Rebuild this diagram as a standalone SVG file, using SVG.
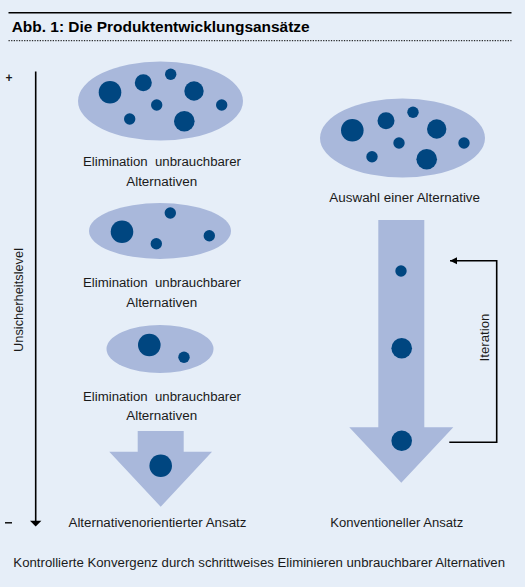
<svg xmlns="http://www.w3.org/2000/svg" width="525" height="587" viewBox="0 0 525 587">
<defs>
<style>
.t{font-family:"Liberation Sans",Arial,sans-serif;font-size:12px;fill:#1a1a1a;text-anchor:middle}
.e{fill:#a9b8db}
.d{fill:#004680}
.ln{stroke:#000;stroke-width:1.6;fill:none}
</style>
<marker id="ah" viewBox="0 0 10 10" refX="10" refY="5" markerWidth="7" markerHeight="10" markerUnits="userSpaceOnUse" orient="auto"><path d="M0,0L10,5L0,10z" fill="#000"/></marker>
</defs>
<rect width="525" height="587" fill="#e6eef8"/>
<g id="title">
<line x1="8.5" y1="12.7" x2="511.5" y2="12.7" stroke="#000" stroke-width="1.6"/>
<text x="11.7" y="32" style="font-family:'Liberation Sans',Arial,sans-serif;font-size:14px;font-weight:bold;fill:#000" textLength="298" lengthAdjust="spacingAndGlyphs">Abb. 1: Die Produktentwicklungsansätze</text>
<line x1="8.5" y1="40.7" x2="511.5" y2="40.7" stroke="#000" stroke-width="1" stroke-dasharray="1.3,1.3"/>
</g>
<g id="axis">
<line x1="35.7" y1="71.5" x2="35.7" y2="522" class="ln"/>
<path d="M30,520.7L41.4,520.7L35.7,526.5z" fill="#000"/>
<text x="9" y="81.5" class="t" style="font-weight:bold;font-size:12px">+</text>
<line x1="5" y1="522.8" x2="12" y2="522.8" stroke="#000" stroke-width="1.4"/>
<text class="t" transform="translate(23,300) rotate(-90)" textLength="104" lengthAdjust="spacingAndGlyphs">Unsicherheitslevel</text>
</g>
<g id="ellipse1">
<ellipse class="e" cx="160.5" cy="101" rx="82.5" ry="39.5"/>
<circle class="d" cx="110" cy="92.3" r="11.3"/>
<circle class="d" cx="143.3" cy="82.7" r="8.5"/>
<circle class="d" cx="170.7" cy="74.3" r="5.7"/>
<circle class="d" cx="194" cy="91" r="9.7"/>
<circle class="d" cx="156.7" cy="105" r="5.7"/>
<circle class="d" cx="221.7" cy="105" r="5.7"/>
<circle class="d" cx="129.7" cy="119" r="5.7"/>
<circle class="d" cx="184.3" cy="121.3" r="10.3"/>
<text class="t" x="162" y="166" textLength="158" lengthAdjust="spacingAndGlyphs" xml:space="preserve">Elimination  unbrauchbarer</text>
<text class="t" x="161.7" y="185.5" textLength="71" lengthAdjust="spacingAndGlyphs">Alternativen</text>
</g>
<g id="ellipse2">
<ellipse class="e" cx="160" cy="231" rx="71" ry="28"/>
<circle class="d" cx="122" cy="231.7" r="11.3"/>
<circle class="d" cx="170.3" cy="213" r="5.7"/>
<circle class="d" cx="156.3" cy="243.7" r="5.7"/>
<circle class="d" cx="209.3" cy="235.7" r="5.7"/>
<text class="t" x="162" y="287" textLength="158" lengthAdjust="spacingAndGlyphs" xml:space="preserve">Elimination  unbrauchbarer</text>
<text class="t" x="161.7" y="307" textLength="71" lengthAdjust="spacingAndGlyphs">Alternativen</text>
</g>
<g id="ellipse3">
<ellipse class="e" cx="160" cy="349" rx="53.5" ry="24"/>
<circle class="d" cx="149.3" cy="345" r="11.3"/>
<circle class="d" cx="184" cy="357.3" r="5.7"/>
<text class="t" x="162" y="400.5" textLength="158" lengthAdjust="spacingAndGlyphs" xml:space="preserve">Elimination  unbrauchbarer</text>
<text class="t" x="161.7" y="420" textLength="71" lengthAdjust="spacingAndGlyphs">Alternativen</text>
</g>
<g id="arrow-left">
<path class="e" d="M137.7,431L183.7,431L183.7,451.7L212,451.7L160.7,506.7L109.3,451.7L137.7,451.7z"/>
<circle class="d" cx="160.7" cy="465.7" r="11.3"/>
<text class="t" x="157.5" y="527" textLength="178" lengthAdjust="spacingAndGlyphs">Alternativenorientierter Ansatz</text>
</g>
<g id="ellipse-right">
<ellipse class="e" cx="402.5" cy="138" rx="82.5" ry="39.5"/>
<circle class="d" cx="352.3" cy="130.3" r="11.3"/>
<circle class="d" cx="386" cy="120.7" r="8.5"/>
<circle class="d" cx="413" cy="112.3" r="5.7"/>
<circle class="d" cx="436.7" cy="129" r="9.7"/>
<circle class="d" cx="399" cy="143" r="5.7"/>
<circle class="d" cx="464" cy="143" r="5.7"/>
<circle class="d" cx="372" cy="156.7" r="5.7"/>
<circle class="d" cx="426.7" cy="159.3" r="10.3"/>
<text class="t" x="404.7" y="201.7" textLength="150.7" lengthAdjust="spacingAndGlyphs">Auswahl einer Alternative</text>
</g>
<g id="arrow-right">
<path class="e" d="M378.3,220L424.3,220L424.3,427.3L453.3,427.3L401.3,482.7L349.3,427.3L378.3,427.3z"/>
<circle class="d" cx="401" cy="271" r="5.7"/>
<circle class="d" cx="401.7" cy="348.3" r="10.3"/>
<circle class="d" cx="401.7" cy="440.7" r="10.3"/>
<text class="t" x="396.7" y="527" textLength="133" lengthAdjust="spacingAndGlyphs">Konventioneller Ansatz</text>
</g>
<g id="connectors">
<path class="ln" d="M449.3,442.3L496.7,442.3L496.7,260.7L450,260.7" marker-end="url(#ah)"/>
<text class="t" transform="translate(489,337.5) rotate(-90)" textLength="48" lengthAdjust="spacingAndGlyphs">Iteration</text>
</g>
<g id="caption">
<text class="t" x="259.2" y="567" textLength="491.7" lengthAdjust="spacingAndGlyphs">Kontrollierte Konvergenz durch schrittweises Eliminieren unbrauchbarer Alternativen</text>
</g>
</svg>
